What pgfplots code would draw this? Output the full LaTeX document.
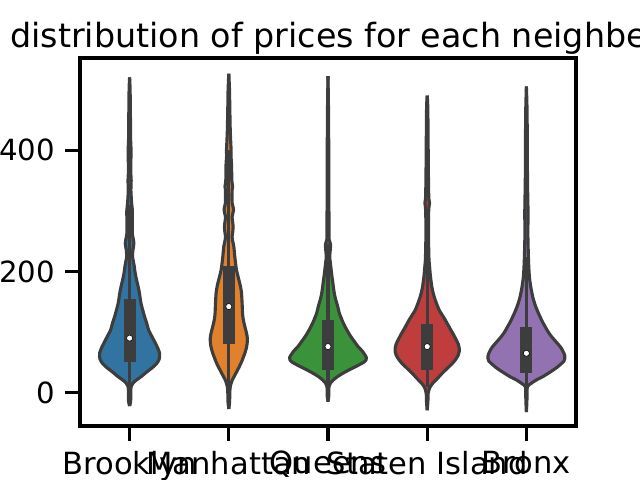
\documentclass[border=0pt]{standalone}
\usepackage{pgfplots}
\usepackage{pgfplotstable}
\pgfplotsset{compat=1.18}
\usepgfplotslibrary{fillbetween}
\usepackage{fontspec}
\setmainfont{DejaVu Sans}
\definecolor{cB}{RGB}{50,116,161}
\definecolor{cM}{RGB}{225,129,44}
\definecolor{cQ}{RGB}{58,146,58}
\definecolor{cS}{RGB}{192,61,62}
\definecolor{cX}{RGB}{147,114,178}
\definecolor{edge}{RGB}{61,61,61}

% violin profiles: y = price, w = half width in pixels (99 px = 1 category)
\pgfplotstableread{
y w
-22 0
-15 1.0
0 1.2
10 1.5
16 3.5
21 7
27 12
34 17
41 22.5
48 27
55 29.5
60 30
66 29.8
72 28.5
84 25
95 21.5
103 19
115 17
125 15
137 13
148 11.3
160 10.2
169 9.3
180 7.8
191 6.3
200 5.3
208 4.7
216 3.8
224 3.0
234 3.2
246 4.3
255 3.5
263 2.7
285 2.7
300 2.8
313 2.0
334 1.3
350 1.6
365 1.2
400 1.4
420 1.0
460 0.8
500 0.5
520 0
}\brooklyn
\pgfplotstableread{
y w
-27 0
-15 0.8
0 1
10 1.5
20 3.3
34 7.7
48 12
65 16
75 17.7
81 18.3
90 18.5
98 17.7
106 16.5
114 15.3
122 14.3
131 13.7
147 13.3
164 12.7
172 12
180 11
191 9.3
202 7.7
210 7
224 6
241 5
249 4
257 3.3
266 4
274 4.3
282 3.8
290 3.3
301 4.7
308 4
313 3.3
334 3.3
340 3.8
350 3.0
375 2.8
390 2.2
400 2.3
430 1.5
470 1.0
500 0.7
526 0
}\manhattan
\pgfplotstableread{
y w
-15 0
-5 0.8
10 1
16 2.5
21 5.3
27 10
34 17
40 24
45 30
50 35.5
54 38
58 38.3
62 37
69 34
76 30
84 26.5
92 23
100 20
109 17
117 14.7
125 12.7
133 11
142 9.7
150 8.3
158 7
167 6
175 5.3
183 4.7
191 4
198 3.5
205 3
215 2.3
224 1.7
236 2.3
245 2.5
252 1.2
280 1.0
350 0.8
450 0.6
522 0
}\queens
\pgfplotstableread{
y w
-29 0
-15 0.7
-1 1
8 2.5
15 5.3
23 10
32 15
40 20
48 25
55 28.5
62 31
68 32
73 32
80 31
87 29
95 26.5
103 23.7
111 21
120 18
128 15
136 12
145 9.8
153 8
161 6.5
169 5.3
177 4.4
186 3.7
194 3.1
202 2.7
215 2.0
224 1.7
260 1.3
300 1.5
313 2.3
322 1.6
360 1.2
420 0.9
470 0.6
490 0
}\staten
\pgfplotstableread{
y w
-32 0
-15 0.5
-1 0.7
10 1
15 4.5
21 10
27 17
34 23.7
41 30
48 35
52 37.5
56 38.3
61 38.3
65 37.5
70 36
76 33.7
84 29.5
92 25.3
100 21.8
109 18.7
117 16
125 13.7
133 11.5
142 9.3
150 7.7
158 6.3
167 5.2
175 4.3
183 3.6
191 3
207 2.4
224 2
260 1.5
300 1.6
350 1.1
420 0.9
470 0.6
505 0
}\bronx

% #1 table, #2 centre, #3 colour, #4 name
\newcommand{\violin}[4]{%
  \addplot[draw=none, mark=none, smooth, name path=R#4] table[x expr=#2+\thisrow{w}/99, y=y] {#1};
  \addplot[draw=none, mark=none, smooth, name path=L#4] table[x expr=#2-\thisrow{w}/99, y=y] {#1};
  \addplot[fill=#3, draw=none] fill between[of=R#4 and L#4];
  \addplot[draw=edge, line width=2.25bp, mark=none, smooth, line join=round] table[x expr=#2+\thisrow{w}/99, y=y] {#1};
  \addplot[draw=edge, line width=2.25bp, mark=none, smooth, line join=round] table[x expr=#2-\thisrow{w}/99, y=y] {#1};
}
% #1 centre, #2 low whisker, #3 q1, #4 median, #5 q3, #6 high whisker
\newcommand{\innerbox}[6]{%
  \addplot[draw=edge, line width=2.25bp, mark=none] coordinates {(#1,#2) (#1,#6)};
  \addplot[draw=edge, line width=8.5bp, mark=none] coordinates {(#1,#3) (#1,#5)};
  \addplot[only marks, mark=*, mark size=2.2bp, mark options={fill=white, draw=none}] coordinates {(#1,#4)};
}

\begin{document}
\begin{tikzpicture}
\begin{axis}[
  at={(0,0)}, anchor=south west,
  scale only axis,
  width=357.12bp, height=264.96bp,
  xmin=-0.5, xmax=4.5,
  ymin=-55, ymax=552,
  xtick={0,1,2,3,4},
  xticklabels={Brooklyn,Manhattan,Queens,Staten Island,Bronx},
  ytick={0,200,400},
  yticklabels={0,200,400},
  tick align=outside,
  xtick pos=bottom, ytick pos=left,
  major tick length=10.8bp,
  every tick/.style={black, line width=2.2bp},
  axis line style={black, line width=2.2bp},
  ticklabel style={inner sep=0pt},
  xticklabel style={yshift=-7.2bp, font=\fontsize{22bp}{26bp}\selectfont},
  yticklabel style={xshift=-7.2bp, font=\fontsize{21bp}{25bp}\selectfont},
  title={Density and distribution of prices for each neighberhood\_group},
  title style={at={(0.5,1)}, anchor=base, yshift=1.9bp, inner sep=0pt,
    font=\fontsize{24bp}{29bp}\selectfont},
]
\violin{\brooklyn}{0}{cB}{a}
\violin{\manhattan}{1}{cM}{b}
\violin{\queens}{2}{cQ}{c}
\violin{\staten}{3}{cS}{d}
\violin{\bronx}{4}{cX}{e}
\innerbox{0}{0}{50}{90}{155}{310}
\innerbox{1}{0}{80}{142}{209}{400}
\innerbox{2}{10}{37}{76}{120}{245}
\innerbox{3}{10}{38}{76}{114}{228}
\innerbox{4}{10}{33}{65}{109}{223}
\end{axis}
\pgfresetboundingbox
\path[use as bounding box] (-57.6bp,-38.88bp) rectangle (403.2bp,306.72bp);
\end{tikzpicture}
\end{document}
